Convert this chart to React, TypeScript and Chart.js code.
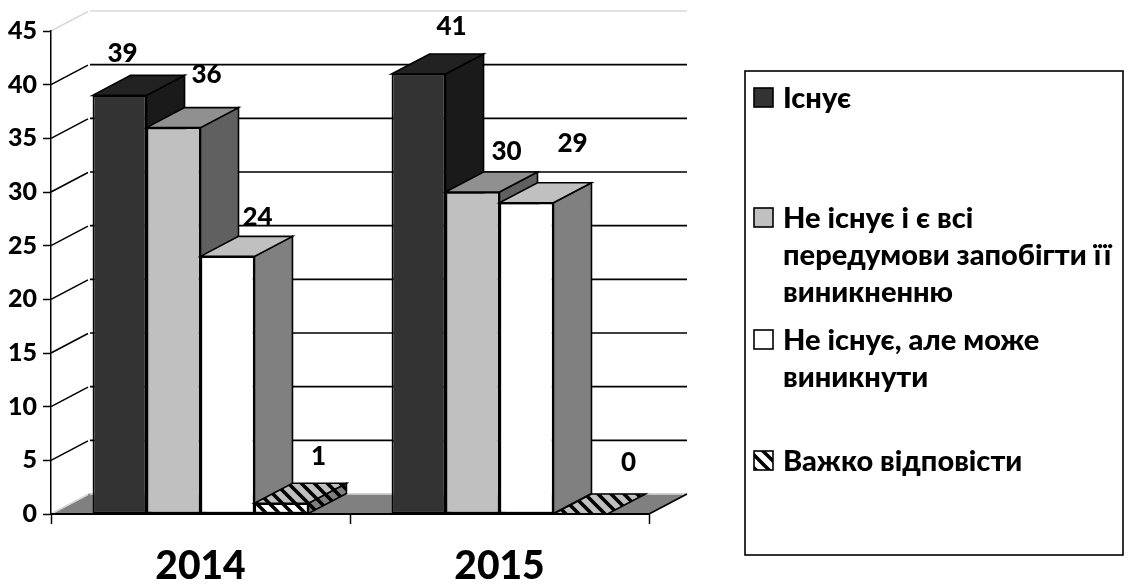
import React, { useEffect, useRef } from "react";
import { Chart, registerables } from "chart.js";

Chart.register(...registerables);

const categories = ["2014", "2015"];
const existsValues = [39, 41];
const noPreconditionsValues = [36, 30];
const mayAriseValues = [24, 29];
const hardToSayValues = [1, 0];
const seriesNames = ["Існує", "Не існує і є всі передумови запобігти її виникненню", "Не існує, але може виникнути", "Важко відповісти"];
const legendLines = [["Існує"], ["Не існує і є всі", "передумови запобігти її", "виникненню"], ["Не існує, але може", "виникнути"], ["Важко відповісти"]];
const yTicksMax = 45;
const yTicksStep = 5;

// style & layout
const FONT = "Lato, 'Open Sans', sans-serif";
const WEIGHT = "900";
const DEPTH_X = 38;
const DEPTH_Y = 20;
const legendRowY = [98, 218, 340, 461];
const labelOffsets = [
  [[3, -42], [33, -53], [30, -39], [37, -47]],
  [[33, -47], [34, -40], [46, -59], [48, -51]],
];

function hatch(bg: string) {
  const c = document.createElement("canvas");
  c.width = 13;
  c.height = 13;
  const g = c.getContext("2d")!;
  g.fillStyle = bg;
  g.fillRect(0, 0, 13, 13);
  g.strokeStyle = "#000";
  g.lineWidth = 3.6;
  g.beginPath();
  g.moveTo(-3, -3);
  g.lineTo(16, 16);
  g.moveTo(-3, 10);
  g.lineTo(3, 16);
  g.moveTo(10, -3);
  g.lineTo(16, 3);
  g.stroke();
  return g.createPattern(c, "repeat")!;
}

function poly(ctx: CanvasRenderingContext2D, pts: number[][], fill: any, stroke = "#000", lw = 1.6) {
  ctx.beginPath();
  pts.forEach(([x, y], i) => (i ? ctx.lineTo(x, y) : ctx.moveTo(x, y)));
  ctx.closePath();
  ctx.fillStyle = fill;
  ctx.fill();
  ctx.strokeStyle = stroke;
  ctx.lineWidth = lw;
  ctx.lineJoin = "miter";
  ctx.stroke();
}

export default function App() {
  const ref = useRef<HTMLCanvasElement>(null);
  useEffect(() => {
    const front = ["#333333", "#c0c0c0", "#ffffff", hatch("#ffffff")];
    const top = ["#222222", "#909090", "#c0c0c0", hatch("#c0c0c0")];
    const side = ["#1a1a1a", "#606060", "#808080", hatch("#808080")];

    const walls = {
      id: "walls",
      beforeDatasetsDraw(chart: any) {
        const ctx = chart.ctx as CanvasRenderingContext2D;
        const { left, right } = chart.chartArea;
        const y = chart.scales.y;
        ctx.save();
        const y0 = y.getPixelForValue(0);
        poly(ctx, [[left, y0], [left + DEPTH_X, y0 - DEPTH_Y], [right + DEPTH_X, y0 - DEPTH_Y], [right, y0]], "#808080", "#808080", 1);
        ctx.lineCap = "butt";
        y.ticks.forEach((t: any) => {
          const py = y.getPixelForValue(t.value);
          const light = t.value === 0 || t.value === yTicksMax;
          ctx.strokeStyle = light ? "#d9d9d9" : "#000";
          ctx.lineWidth = light ? 1.5 : 1.6;
          ctx.beginPath();
          ctx.moveTo(left, py);
          ctx.lineTo(left + DEPTH_X - 1, py - DEPTH_Y + 0.5);
          ctx.moveTo(left + DEPTH_X + 1, py - DEPTH_Y);
          ctx.lineTo(right + DEPTH_X, py - DEPTH_Y);
          ctx.stroke();
        });
        ctx.strokeStyle = "#000";
        ctx.lineWidth = 1.6;
        ctx.beginPath();
        ctx.moveTo(right, y0);
        ctx.lineTo(right + DEPTH_X, y0 - DEPTH_Y);
        ctx.stroke();
        ctx.restore();
      },
    };

    const bars3d = {
      id: "bars3d",
      beforeDatasetDraw() {
        return false;
      },
      afterDatasetsDraw(chart: any) {
        const ctx = chart.ctx as CanvasRenderingContext2D;
        ctx.save();
        categories.forEach((_, ci) => {
          chart.data.datasets.forEach((_d: any, di: number) => {
            const el = chart.getDatasetMeta(di).data[ci];
            const x0 = el.x - el.width / 2;
            const x1 = el.x + el.width / 2;
            if (el.base - el.y > 0.5) {
              poly(ctx, [[x1, el.y], [x1 + DEPTH_X, el.y - DEPTH_Y], [x1 + DEPTH_X, el.base - DEPTH_Y], [x1, el.base]], side[di]);
            }
            poly(ctx, [[x0, el.y], [x0 + DEPTH_X, el.y - DEPTH_Y], [x1 + DEPTH_X, el.y - DEPTH_Y], [x1, el.y]], top[di]);
            if (el.base - el.y > 0.5) el.draw(ctx);
          });
        });
        ctx.restore();
      },
    };

    const overlay = {
      id: "overlay",
      afterDraw(chart: any) {
        const ctx = chart.ctx as CanvasRenderingContext2D;
        ctx.save();
        // value labels
        ctx.fillStyle = "#000";
        ctx.font = `${WEIGHT} 26px ${FONT}`;
        ctx.textAlign = "center";
        ctx.textBaseline = "middle";
        categories.forEach((_, ci) => {
          chart.data.datasets.forEach((d: any, di: number) => {
            const el = chart.getDatasetMeta(di).data[ci];
            const [ox, oy] = labelOffsets[ci][di];
            ctx.fillText(String(d.data[ci]), el.x + ox, el.y + oy);
          });
        });
        // legend
        ctx.lineWidth = 1.6;
        ctx.strokeStyle = "#000";
        ctx.strokeRect(745, 71, 378, 484);
        ctx.font = `${WEIGHT} 29px ${FONT}`;
        ctx.textAlign = "left";
        legendLines.forEach((lines, i) => {
          const y = legendRowY[i];
          ctx.fillStyle = front[i] as any;
          ctx.fillRect(754, y - 10, 19, 19);
          ctx.strokeRect(754, y - 10, 19, 19);
          ctx.fillStyle = "#000";
          lines.forEach((ln, j) => ctx.fillText(ln, 783, y + 1 + j * 37));
        });
        ctx.restore();
      },
    };

    const chart = new Chart(ref.current!, {
      type: "bar",
      data: {
        labels: categories,
        datasets: [existsValues, noPreconditionsValues, mayAriseValues, hardToSayValues].map((data, i) => ({
          label: seriesNames[i],
          data,
          backgroundColor: front[i] as any,
          borderColor: "#000",
          borderWidth: 1.7,
          borderSkipped: false as any,
          categoryPercentage: 0.722,
          barPercentage: 1,
        })),
      },
      options: {
        responsive: false,
        animation: false,
        layout: { padding: { top: 31, right: 479, left: 0, bottom: 0 } },
        plugins: { legend: { display: false }, tooltip: { enabled: false } },
        scales: {
          x: {
            afterFit: (s: any) => { s.height = 70; },
            grid: { drawOnChartArea: false, drawTicks: true, tickLength: 10, tickColor: "#000", tickWidth: 1.5 },
            border: { color: "#000", width: 2, z: 1 },
            ticks: { color: "#000", font: { family: FONT, size: 39, weight: WEIGHT }, padding: 19, maxRotation: 0 },
          },
          y: {
            min: 0,
            max: yTicksMax,
            afterFit: (s: any) => { s.width = 51; },
            grid: { drawOnChartArea: false, drawTicks: true, tickLength: 8, tickColor: "#000", tickWidth: 1.5 },
            border: { color: "#000", width: 1.5, z: 1 },
            ticks: { stepSize: yTicksStep, color: "#000", font: { family: FONT, size: 25, weight: WEIGHT }, padding: 6 },
          },
        },
      },
      plugins: [walls, bars3d, overlay],
    } as any);
    return () => chart.destroy();
  }, []);
  return (
    <div style={{ position: "fixed", left: 0, top: 0, width: 1128, height: 584, background: "#fff" }}>
      <canvas ref={ref} width={1128} height={584} style={{ display: "block" }} />
    </div>
  );
}
